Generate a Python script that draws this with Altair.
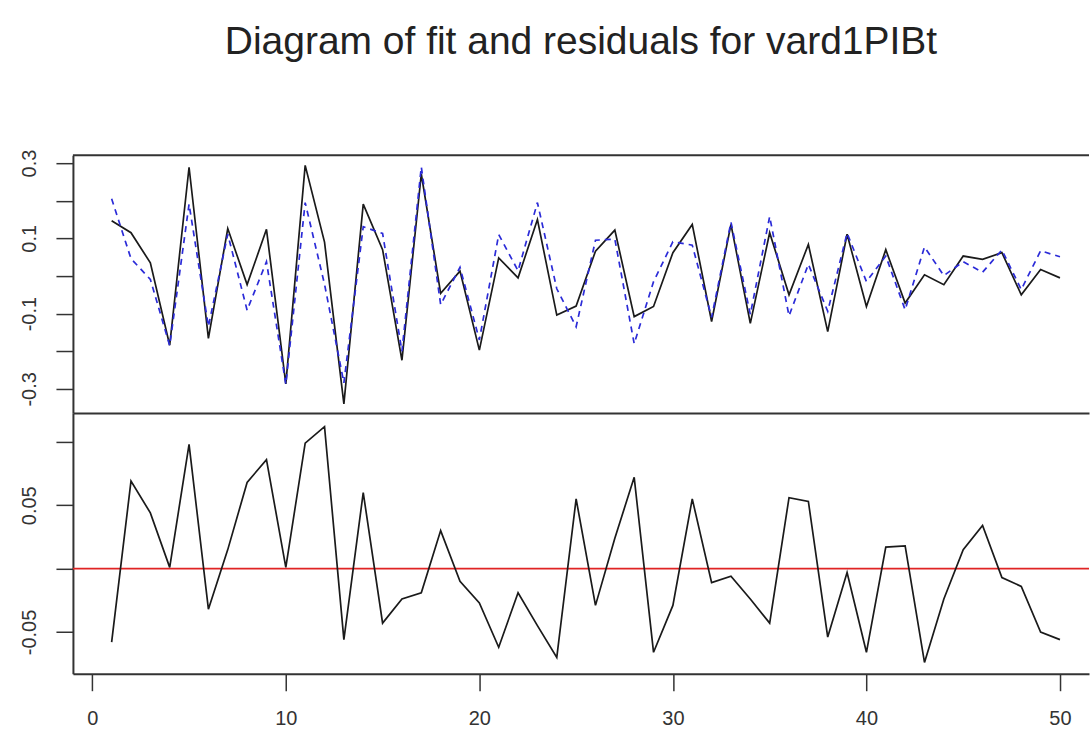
import altair as alt
import pandas as pd

# ---- data ----
t = list(range(1, 51))
actual = [0.147, 0.115, 0.035, -0.184, 0.289, -0.166, 0.126, -0.023, 0.124, -0.287,
          0.294, 0.090, -0.340, 0.191, 0.070, -0.224, 0.271, -0.046, 0.013, -0.197,
          0.048, -0.005, 0.150, -0.104, -0.080, 0.066, 0.122, -0.108, -0.081, 0.062,
          0.137, -0.121, 0.137, -0.126, 0.115, -0.050, 0.084, -0.148, 0.111, -0.081,
          0.070, -0.072, 0.003, -0.023, 0.053, 0.044, 0.062, -0.050, 0.017, -0.005]
fitted = [0.205, 0.046, -0.009, -0.185, 0.191, -0.134, 0.111, -0.091, 0.038, -0.288,
          0.195, -0.022, -0.284, 0.131, 0.113, -0.200, 0.290, -0.076, 0.023, -0.170,
          0.110, 0.014, 0.195, -0.034, -0.135, 0.095, 0.098, -0.180, -0.015, 0.091,
          0.082, -0.110, 0.143, -0.102, 0.158, -0.106, 0.031, -0.094, 0.114, -0.015,
          0.053, -0.090, 0.077, 0.001, 0.038, 0.010, 0.069, -0.036, 0.067, 0.051]
resid = [-0.058, 0.069, 0.044, 0.001, 0.098, -0.032, 0.015, 0.068, 0.086, 0.001,
         0.099, 0.112, -0.056, 0.060, -0.043, -0.024, -0.019, 0.030, -0.010, -0.027,
         -0.062, -0.019, -0.045, -0.070, 0.055, -0.029, 0.024, 0.072, -0.066, -0.029,
         0.055, -0.011, -0.006, -0.024, -0.043, 0.056, 0.053, -0.054, -0.003, -0.066,
         0.017, 0.018, -0.074, -0.024, 0.015, 0.034, -0.007, -0.014, -0.050, -0.056]
zero_line = [0.0]
x_ticks = [0, 10, 20, 30, 40, 50]
top_ticks = [-0.3, -0.2, -0.1, 0.0, 0.1, 0.2, 0.3]
bottom_ticks = [-0.05, 0.0, 0.05, 0.10]
title_text = "Diagram of fit and residuals for vard1PIBt"

df = pd.DataFrame({"t": t, "actual": actual, "fitted": fitted, "resid": resid})
zdf = pd.DataFrame({"z": zero_line})

W = 1017
H1 = 258
H2 = 261
FONT = "Liberation Sans"
AX = "#333333"
LBL = "#333333"

xscale = alt.Scale(domain=[-1.0, 51.5], nice=False, zero=False)

y_axis_common = dict(
    title=None, grid=False, domain=True, domainColor=AX, domainWidth=2,
    ticks=True, tickColor=AX, tickWidth=1.5, tickSize=17,
    labelAngle=270, labelAlign="center", labelBaseline="alphabetic",
    labelPadding=20, labelFont=FONT, labelFontSize=20, labelColor=LBL,
    minExtent=55, maxExtent=55, labelOverlap=False, labelFlush=False,
)

top_label_expr = ("abs(abs(datum.value)-0.1)<0.001 || abs(abs(datum.value)-0.3)<0.001 ? "
                  "(datum.value < 0 ? '-' + format(abs(datum.value), '.1f') : format(datum.value, '.1f')) : ''")
bot_label_expr = ("abs(abs(datum.value)-0.05)<0.001 ? "
                  "(datum.value < 0 ? '-0.05' : '0.05') : ''")

x_top = alt.X("t:Q", scale=xscale,
              axis=alt.Axis(title=None, labels=False, ticks=False, grid=False,
                            domain=True, domainColor=AX, domainWidth=2,
                            minExtent=0, maxExtent=0))
y_top = alt.Y("actual:Q", scale=alt.Scale(domain=[-0.364, 0.321], nice=False, zero=False),
              axis=alt.Axis(values=top_ticks, labelExpr=top_label_expr, **y_axis_common))

actual_line = alt.Chart(df).mark_line(color="#1a1a1a", strokeWidth=1.7).encode(
    x=x_top, y=y_top)
fitted_line = alt.Chart(df).mark_line(color="#2b2bd8", strokeWidth=1.7, strokeDash=[6, 5]).encode(
    x=alt.X("t:Q", scale=xscale), y=alt.Y("fitted:Q"))
top_border = alt.Chart(zdf).mark_rule(color=AX, strokeWidth=2).encode(
    x=alt.value(0), x2=alt.value(W), y=alt.value(0))

top = alt.layer(actual_line, fitted_line, top_border).properties(width=W, height=H1)

x_bot = alt.X("t:Q", scale=xscale,
              axis=alt.Axis(title=None, values=x_ticks, grid=False, domain=True,
                            domainColor=AX, domainWidth=2, tickColor=AX, tickWidth=1.5,
                            tickSize=17, labelPadding=18, labelFont=FONT, labelFontSize=20,
                            labelColor=LBL, labelFlush=False))
y_bot = alt.Y("resid:Q", scale=alt.Scale(domain=[-0.0829, 0.1228], nice=False, zero=False),
              axis=alt.Axis(values=bottom_ticks, labelExpr=bot_label_expr, **y_axis_common))

resid_line = alt.Chart(df).mark_line(color="#1a1a1a", strokeWidth=1.7).encode(x=x_bot, y=y_bot)
zero_rule = alt.Chart(zdf).mark_rule(color="#e02424", strokeWidth=1.8).encode(
    y=alt.Y("z:Q"))

bottom = alt.layer(zero_rule, resid_line).properties(width=W, height=H2)

chart = alt.vconcat(top, bottom, spacing=0).properties(
    title=alt.TitleParams(text=title_text, font=FONT, fontSize=39, fontWeight="normal",
                          color="#222222", anchor="middle", frame="group",
                          baseline="alphabetic", offset=56),
    padding={"left": 18, "top": 23, "right": 0, "bottom": 0},
    background="white",
).configure_view(stroke=None).configure_concat(spacing=0)

chart.save("out.html", embed_options={"renderer": "svg", "actions": False})
